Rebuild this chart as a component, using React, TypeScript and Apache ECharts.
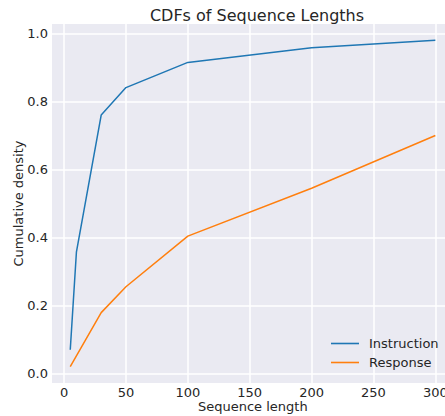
import React, { useEffect, useRef } from "react";
import * as echarts from "echarts";

const lengths = [5, 10, 30, 50, 100, 200, 300];
const instruction = [0.07, 0.358, 0.76, 0.841, 0.915, 0.958, 0.98];
const responseX = [5, 30, 50, 100, 200, 300];
const response = [0.02, 0.179, 0.255, 0.404, 0.545, 0.7];
const xTicks = [0, 50, 100, 150, 200, 250, 300];
const yTicks = [0, 0.2, 0.4, 0.6, 0.8, 1.0];

const FONT = "DejaVu Sans";
const TXT = "#262626";

export default function App() {
  const ref = useRef<HTMLDivElement>(null);
  useEffect(() => {
    if (!ref.current) return;
    const chart = echarts.init(ref.current, null, { renderer: "svg" });
    chart.setOption({
      animation: false,
      backgroundColor: "#ffffff",
      title: {
        text: "CDFs of Sequence Lengths",
        left: 252,
        textAlign: "center",
        top: 2,
        textStyle: { fontFamily: FONT, fontSize: 16, fontWeight: "normal", color: TXT },
      },
      legend: {
        orient: "vertical",
        left: 331,
        top: 337,
        padding: 0,
        icon: "rect",
        itemWidth: 28,
        itemHeight: 1.6,
        itemGap: 6,
        textStyle: { fontFamily: FONT, fontSize: 13, color: TXT, padding: [0, 0, 0, 5] },
        data: ["Instruction", "Response"],
      },
      grid: {
        left: 52,
        right: 6.4,
        top: 24,
        bottom: 33,
        outerBoundsMode: "none",
        containLabel: false,
        show: true,
        backgroundColor: "#EAEAF2",
        borderWidth: 0,
      },
      xAxis: {
        type: "value",
        min: -9.75,
        max: 314.75,
        name: "Sequence length",
        nameLocation: "middle",
        nameGap: 17,
        nameMoveOverlap: false,
        nameTextStyle: { fontFamily: FONT, fontSize: 13, color: TXT },
        axisLine: { show: false },
        axisTick: { show: false, customValues: xTicks },
        axisLabel: {
          customValues: xTicks,
          fontFamily: FONT,
          fontSize: 13,
          color: TXT,
          margin: 3,
        },
        splitLine: { show: true, lineStyle: { color: "#ffffff", width: 1.5 } },
      },
      yAxis: {
        type: "value",
        min: -0.028,
        max: 1.028,
        name: "Cumulative density",
        nameLocation: "middle",
        nameGap: 27,
        nameMoveOverlap: false,
        nameTextStyle: { fontFamily: FONT, fontSize: 13, color: TXT },
        axisLine: { show: false },
        axisTick: { show: false, customValues: yTicks },
        axisLabel: {
          customValues: yTicks,
          fontFamily: FONT,
          fontSize: 13,
          color: TXT,
          margin: 4,
          formatter: (v: number) => v.toFixed(1),
        },
        splitLine: { show: true, lineStyle: { color: "#ffffff", width: 1.5 } },
      },
      series: [
        {
          name: "Instruction",
          type: "line",
          data: lengths.map((x, i) => [x, instruction[i]]),
          showSymbol: false,
          symbol: "none",
          color: "#1f77b4",
          lineStyle: { width: 1.5, color: "#1f77b4" },
        },
        {
          name: "Response",
          type: "line",
          data: responseX.map((x, i) => [x, response[i]]),
          showSymbol: false,
          symbol: "none",
          color: "#ff7f0e",
          lineStyle: { width: 1.5, color: "#ff7f0e" },
        },
      ],
    });
    return () => chart.dispose();
  }, []);
  return (
    <div
      style={{
        position: "fixed",
        left: 0,
        top: 0,
        width: 445,
        height: 416,
        overflow: "hidden",
        background: "#fff",
      }}
    >
      <div ref={ref} style={{ width: 460, height: 416 }} />
    </div>
  );
}
